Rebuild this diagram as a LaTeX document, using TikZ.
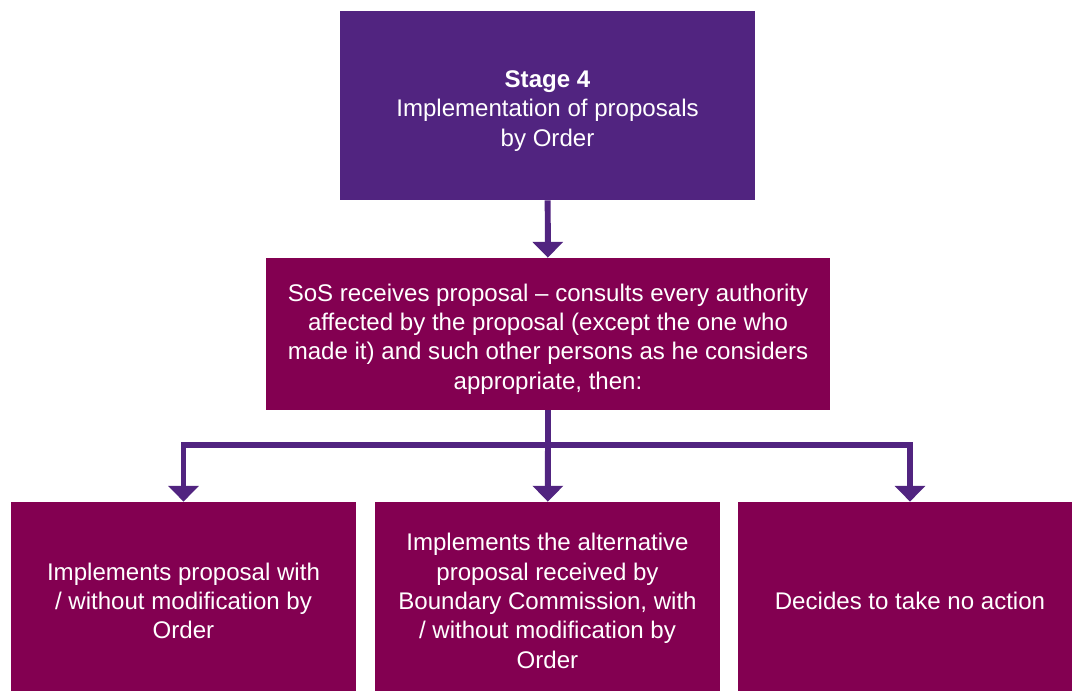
\documentclass[tikz,border=0pt]{standalone}
\usepackage{fontspec}
\setmainfont{Liberation Sans}
\usetikzlibrary{arrows.meta}

\definecolor{stagepurple}{RGB}{81,36,128}
\definecolor{plum}{RGB}{131,0,81}

\begin{document}
\begin{tikzpicture}[x=0.02cm,y=-0.02cm,
    box/.style={rectangle,inner sep=0pt,align=center,text=white,
      font=\fontsize{13.7}{16.7}\selectfont},
    stagebox/.style={box,fill=stagepurple,minimum width=415*0.02cm,minimum height=189*0.02cm},
    actionbox/.style={box,fill=plum},
    link/.style={draw=stagepurple,line width=3.4pt},
    flow/.style={link,-{Triangle[width=17pt,length=9pt]}}]
  \useasboundingbox (0,0) rectangle (1072,690);
  \clip (0,0) rectangle (1072,690);

  % stage header and the consultation step
  \node[stagebox] (stage) at (547.5,105.5)
    {\rule{0pt}{15.9pt}\textbf{Stage 4}\\Implementation of proposals\\by Order};
  \node[actionbox,minimum width=564*0.02cm,minimum height=152*0.02cm] (consult) at (548,334)
    {\rule{0pt}{15.7pt}SoS receives proposal -- consults every authority\\
     affected by the proposal (except the one who\\
     made it) and such other persons as he considers\\
     appropriate, then:};

  % the three outcomes
  \foreach \name/\x/\txt in {
      modify/183.5/{Implements proposal with\\/ without modification by\\Order},
      altern/547.5/{Implements the alternative\\proposal received by\\Boundary Commission, with\\/ without modification by\\Order},
      noaction/910/{Decides to take no action}} {
    \node[actionbox,minimum width=345*0.02cm,minimum height=198*0.02cm] (\name) at (\x,601) {\txt};
  }

  \coordinate (split) at (548,445);
  \draw[flow] (stage) -- (consult);
  \draw[link] (consult) -- (split);
  \draw[flow] (split) -| (modify);
  \draw[flow] (split) -- (altern);
  \draw[flow] (split) -| (noaction);
\end{tikzpicture}
\end{document}
